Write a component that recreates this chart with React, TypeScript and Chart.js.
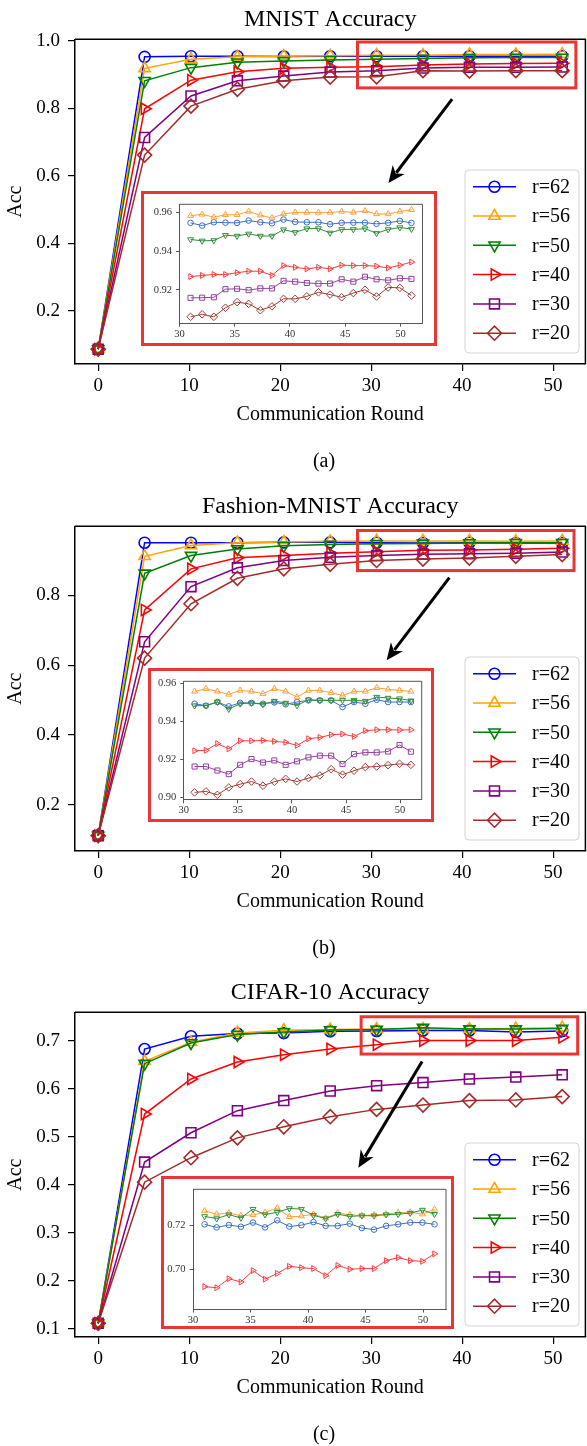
import React, { useEffect, useRef } from 'react';
import { Chart, registerables } from 'chart.js';
import { drawPoint } from 'chart.js/helpers';
Chart.register(...registerables);

const FONT = "'Liberation Serif', 'Times New Roman', serif";
const RED = '#ea3535';

const LABELS = ['r=62', 'r=56', 'r=50', 'r=40', 'r=30', 'r=20'];
const MAIN_COLORS = ['#0000ff', '#ffa500', '#008000', '#ff0000', '#800080', '#a52a2a'];
const INSET_COLORS = ['#3a6ec6', '#ffa038', '#2f8f3a', '#ff3c3c', '#94409f', '#a23b34'];
const POINT_STYLES = ['circle', 'triangle', 'triangle', 'triangle', 'rect', 'rectRot'];
const POINT_ROTATIONS = [0, 0, 180, 90, 0, 0];
const MAIN_RADII = [5.5, 6.5, 6.5, 6.5, 7, 7];
const INSET_RADII = [2.8, 3.4, 3.4, 3.4, 3.6, 3.8];

const ROUNDS = [0, 5.1, 10.2, 15.3, 20.4, 25.5, 30.6, 35.7, 40.8, 45.9, 51];
const INSET_ROUNDS = [31, 32.05, 33.11, 34.16, 35.21, 36.26, 37.32, 38.37, 39.42, 40.47, 41.53, 42.58, 43.63, 44.68, 45.74, 46.79, 47.84, 48.89, 49.95, 51];

// MNIST main
const MNIST_62 = [0.087, 0.953, 0.955, 0.955, 0.954, 0.955, 0.955, 0.955, 0.955, 0.955, 0.955];
const MNIST_56 = [0.087, 0.919, 0.946, 0.953, 0.955, 0.956, 0.958, 0.958, 0.96, 0.96, 0.961];
const MNIST_50 = [0.087, 0.882, 0.921, 0.937, 0.941, 0.944, 0.946, 0.948, 0.95, 0.951, 0.951];
const MNIST_40 = [0.087, 0.799, 0.884, 0.909, 0.919, 0.922, 0.924, 0.929, 0.932, 0.933, 0.934];
const MNIST_30 = [0.087, 0.714, 0.837, 0.882, 0.896, 0.908, 0.912, 0.92, 0.922, 0.922, 0.923];
const MNIST_20 = [0.087, 0.662, 0.807, 0.857, 0.882, 0.893, 0.894, 0.912, 0.911, 0.912, 0.912];
// MNIST inset
const MNIST_IN_62 = [0.9546, 0.9532, 0.9549, 0.9547, 0.9546, 0.9558, 0.9549, 0.9544, 0.9563, 0.9551, 0.9549, 0.9549, 0.9539, 0.9546, 0.9547, 0.9547, 0.9541, 0.9546, 0.9556, 0.9546];
const MNIST_IN_56 = [0.9583, 0.959, 0.9575, 0.9588, 0.9588, 0.9605, 0.9586, 0.9571, 0.9592, 0.96, 0.96, 0.96, 0.96, 0.9605, 0.96, 0.9608, 0.9592, 0.9592, 0.9605, 0.9614];
const MNIST_IN_50 = [0.946, 0.9453, 0.9455, 0.9482, 0.9478, 0.9489, 0.9478, 0.9478, 0.9511, 0.9497, 0.9516, 0.9517, 0.9494, 0.9512, 0.9512, 0.9516, 0.9492, 0.9512, 0.9522, 0.9514];
const MNIST_IN_40 = [0.9268, 0.9274, 0.9279, 0.9279, 0.9288, 0.9296, 0.9296, 0.9274, 0.9325, 0.9316, 0.9308, 0.9316, 0.9308, 0.9327, 0.9325, 0.9325, 0.9322, 0.9313, 0.9327, 0.9343];
const MNIST_IN_30 = [0.9158, 0.9159, 0.9161, 0.9203, 0.9205, 0.9198, 0.9207, 0.9207, 0.9246, 0.9242, 0.9235, 0.9232, 0.9232, 0.9254, 0.9242, 0.9267, 0.9254, 0.9249, 0.9259, 0.9256];
const MNIST_IN_20 = [0.906, 0.9073, 0.906, 0.9107, 0.9136, 0.9127, 0.9094, 0.9114, 0.9153, 0.9153, 0.9166, 0.9187, 0.9175, 0.9161, 0.9183, 0.92, 0.9165, 0.9212, 0.921, 0.917];

// Fashion-MNIST main
const FASHION_62 = [0.111, 0.951, 0.951, 0.951, 0.952, 0.952, 0.951, 0.95, 0.951, 0.95, 0.95];
const FASHION_56 = [0.111, 0.912, 0.943, 0.951, 0.953, 0.955, 0.956, 0.956, 0.956, 0.955, 0.956];
const FASHION_50 = [0.111, 0.863, 0.914, 0.933, 0.942, 0.946, 0.948, 0.949, 0.95, 0.951, 0.951];
const FASHION_40 = [0.111, 0.758, 0.876, 0.908, 0.914, 0.921, 0.925, 0.929, 0.93, 0.932, 0.935];
const FASHION_30 = [0.111, 0.667, 0.825, 0.879, 0.9, 0.909, 0.914, 0.918, 0.919, 0.921, 0.924];
const FASHION_20 = [0.111, 0.62, 0.776, 0.849, 0.876, 0.889, 0.9, 0.904, 0.907, 0.912, 0.917];
// Fashion-MNIST inset
const FASHION_IN_62 = [0.9491, 0.9481, 0.95, 0.9477, 0.9496, 0.9495, 0.9491, 0.9498, 0.9488, 0.95, 0.9509, 0.9509, 0.9509, 0.9474, 0.95, 0.9491, 0.9512, 0.95, 0.95, 0.95];
const FASHION_IN_56 = [0.9556, 0.957, 0.9556, 0.954, 0.9561, 0.9556, 0.9544, 0.957, 0.9556, 0.9526, 0.9561, 0.9561, 0.9549, 0.9535, 0.9556, 0.9556, 0.9575, 0.9567, 0.9561, 0.9556];
const FASHION_IN_50 = [0.9481, 0.9481, 0.95, 0.9463, 0.9491, 0.9495, 0.9488, 0.9505, 0.9495, 0.9482, 0.9512, 0.9509, 0.9509, 0.9509, 0.9509, 0.9505, 0.9526, 0.9521, 0.9518, 0.9507];
const FASHION_IN_40 = [0.9244, 0.9246, 0.9281, 0.9254, 0.9296, 0.9296, 0.9298, 0.9293, 0.9288, 0.9272, 0.9307, 0.9314, 0.9328, 0.9332, 0.9319, 0.9349, 0.9354, 0.9354, 0.9353, 0.9354];
const FASHION_IN_30 = [0.9161, 0.9161, 0.914, 0.9121, 0.917, 0.92, 0.9182, 0.9193, 0.917, 0.9188, 0.9209, 0.9218, 0.9218, 0.9174, 0.9226, 0.9235, 0.9235, 0.924, 0.9274, 0.9239];
const FASHION_IN_20 = [0.9025, 0.903, 0.9012, 0.9051, 0.9068, 0.9082, 0.906, 0.9081, 0.9096, 0.9082, 0.91, 0.9114, 0.9147, 0.9118, 0.9139, 0.9158, 0.9161, 0.9168, 0.9175, 0.917];

// CIFAR-10 main
const CIFAR_62 = [0.111, 0.6825, 0.709, 0.7147, 0.716, 0.7196, 0.72, 0.721, 0.721, 0.718, 0.72];
const CIFAR_56 = [0.111, 0.657, 0.6965, 0.716, 0.7217, 0.723, 0.724, 0.724, 0.724, 0.725, 0.727];
const CIFAR_50 = [0.111, 0.652, 0.695, 0.7126, 0.718, 0.722, 0.723, 0.727, 0.724, 0.724, 0.725];
const CIFAR_40 = [0.111, 0.547, 0.62, 0.6553, 0.6707, 0.6825, 0.6916, 0.7, 0.7, 0.7, 0.707];
const CIFAR_30 = [0.111, 0.447, 0.508, 0.554, 0.575, 0.595, 0.606, 0.6126, 0.62, 0.624, 0.6287];
const CIFAR_20 = [0.111, 0.405, 0.456, 0.4973, 0.5204, 0.5414, 0.5567, 0.5658, 0.575, 0.5763, 0.5833];
// CIFAR-10 inset
const CIFAR_IN_62 = [0.7204, 0.719, 0.7201, 0.7193, 0.7212, 0.719, 0.7222, 0.7194, 0.72, 0.7214, 0.7197, 0.7197, 0.7207, 0.7187, 0.718, 0.7197, 0.7204, 0.7212, 0.7212, 0.7204];
const CIFAR_IN_56 = [0.7265, 0.725, 0.7255, 0.7243, 0.7247, 0.7258, 0.7278, 0.7238, 0.7241, 0.725, 0.7232, 0.7255, 0.7247, 0.7244, 0.7247, 0.725, 0.7257, 0.7259, 0.725, 0.7272];
const CIFAR_IN_50 = [0.724, 0.723, 0.7248, 0.7233, 0.7273, 0.7248, 0.7259, 0.7276, 0.7273, 0.7245, 0.723, 0.725, 0.724, 0.7243, 0.7243, 0.7248, 0.725, 0.7255, 0.7269, 0.725];
const CIFAR_IN_40 = [0.6921, 0.6916, 0.6957, 0.6942, 0.6994, 0.6955, 0.6981, 0.7013, 0.7007, 0.7003, 0.6971, 0.7017, 0.7, 0.7003, 0.7003, 0.7039, 0.7053, 0.7039, 0.7036, 0.707];

type Rect = { left: number; top: number; right: number; bottom: number };
type PanelCfg = {
  top: number;
  title: string;
  caption: string;
  yMin: number; yMax: number; yStep: number;
  main: number[][];
  inset: number[][];
  inYMin: number; inYMax: number; inYStep: number;
  zoomBox: [number, number, number, number];
  arrow: [number, number, number, number];
  insetBox: Rect;
  insetAxes: Rect;
};

const PANELS: PanelCfg[] = [
  {
    top: 0, title: 'MNIST Accuracy', caption: '(a)',
    yMin: 0.043, yMax: 1.005, yStep: 0.2,
    main: [MNIST_62, MNIST_56, MNIST_50, MNIST_40, MNIST_30, MNIST_20],
    inset: [MNIST_IN_62, MNIST_IN_56, MNIST_IN_50, MNIST_IN_40, MNIST_IN_30, MNIST_IN_20],
    inYMin: 0.9027, inYMax: 0.9642, inYStep: 0.02,
    zoomBox: [28.5, 52.5, 0.861, 0.997],
    arrow: [38.9, 0.828, 31.9, 0.579],
    insetBox: { left: 142, top: 192, right: 435, bottom: 344 },
    insetAxes: { left: 179, top: 201.7, right: 422, bottom: 322.7 },
  },
  {
    top: 486.7, title: 'Fashion-MNIST Accuracy', caption: '(b)',
    yMin: 0.067, yMax: 0.998, yStep: 0.2,
    main: [FASHION_62, FASHION_56, FASHION_50, FASHION_40, FASHION_30, FASHION_20],
    inset: [FASHION_IN_62, FASHION_IN_56, FASHION_IN_50, FASHION_IN_40, FASHION_IN_30, FASHION_IN_20],
    inYMin: 0.8986, inYMax: 0.9609, inYStep: 0.02,
    zoomBox: [28.5, 52.3, 0.871, 0.986],
    arrow: [38.6, 0.851, 31.7, 0.614],
    insetBox: { left: 149, top: 182.6, right: 432.5, bottom: 334 },
    insetAxes: { left: 183.3, top: 194.3, right: 421.7, bottom: 313.3 },
  },
  {
    top: 973.4, title: 'CIFAR-10 Accuracy', caption: '(c)',
    yMin: 0.0824, yMax: 0.759, yStep: 0.1,
    main: [CIFAR_62, CIFAR_56, CIFAR_50, CIFAR_40, CIFAR_30, CIFAR_20],
    inset: [CIFAR_IN_62, CIFAR_IN_56, CIFAR_IN_50, CIFAR_IN_40],
    inYMin: 0.6819, inYMax: 0.7363, inYStep: 0.02,
    zoomBox: [28.9, 52.7, 0.672, 0.7497],
    arrow: [35.6, 0.6566, 28.6, 0.435],
    insetBox: { left: 162.7, top: 204.3, right: 452.7, bottom: 354.3 },
    insetAxes: { left: 193.3, top: 209.9, right: 447.7, bottom: 335.9 },
  },
];

const CANVAS_W = 594;
const CANVAS_H = 482;
const AREA = { left: 75, top: 39.3, right: 590, bottom: 364 };
const X_AXIS_H = 30;
const LEGEND = { left: 465, top: 170, right: 579, bottom: 353, firstY: 186.7, stepY: 29.3 };

function drawArrow(ctx: CanvasRenderingContext2D, x0: number, y0: number, x1: number, y1: number) {
  const ang = Math.atan2(y1 - y0, x1 - x0);
  const headLen = 17;
  const headW = 7.5;
  const bx = x1 - headLen * Math.cos(ang);
  const by = y1 - headLen * Math.sin(ang);
  ctx.strokeStyle = '#000';
  ctx.fillStyle = '#000';
  ctx.lineWidth = 3;
  ctx.beginPath();
  ctx.moveTo(x0, y0);
  ctx.lineTo(bx + 4 * Math.cos(ang), by + 4 * Math.sin(ang));
  ctx.stroke();
  ctx.beginPath();
  ctx.moveTo(x1, y1);
  ctx.lineTo(bx + headW * Math.sin(ang), by - headW * Math.cos(ang));
  ctx.lineTo(bx + 5 * Math.cos(ang), by + 5 * Math.sin(ang));
  ctx.lineTo(bx - headW * Math.sin(ang), by + headW * Math.cos(ang));
  ctx.closePath();
  ctx.fill();
}

function mainDecor(cfg: PanelCfg) {
  return {
    id: 'mainDecor',
    afterDatasetsDraw(chart: any) {
      const { ctx, chartArea: a, scales } = chart;
      const x = scales.x;
      const y = scales.y;
      ctx.save();
      // top and right spines
      ctx.strokeStyle = '#000';
      ctx.lineWidth = 1.5;
      ctx.beginPath();
      ctx.moveTo(a.left, a.top);
      ctx.lineTo(a.right, a.top);
      ctx.lineTo(a.right, a.bottom);
      ctx.stroke();
      // zoom rectangle
      const [zx0, zx1, zy0, zy1] = cfg.zoomBox;
      const px0 = x.getPixelForValue(zx0);
      const px1 = x.getPixelForValue(zx1);
      const py0 = y.getPixelForValue(zy1);
      const py1 = y.getPixelForValue(zy0);
      ctx.strokeStyle = RED;
      ctx.lineWidth = 3;
      ctx.strokeRect(px0, py0, px1 - px0, py1 - py0);
      // arrow
      const [ax0, ay0, ax1, ay1] = cfg.arrow;
      drawArrow(ctx, x.getPixelForValue(ax0), y.getPixelForValue(ay0), x.getPixelForValue(ax1), y.getPixelForValue(ay1));
      // legend
      const L = LEGEND;
      ctx.beginPath();
      const r = 4;
      ctx.moveTo(L.left + r, L.top);
      ctx.arcTo(L.right, L.top, L.right, L.bottom, r);
      ctx.arcTo(L.right, L.bottom, L.left, L.bottom, r);
      ctx.arcTo(L.left, L.bottom, L.left, L.top, r);
      ctx.arcTo(L.left, L.top, L.right, L.top, r);
      ctx.closePath();
      ctx.fillStyle = 'rgba(255,255,255,0.85)';
      ctx.fill();
      ctx.strokeStyle = '#d3d3d3';
      ctx.lineWidth = 1;
      ctx.stroke();
      chart.data.datasets.forEach((ds: any, i: number) => {
        const ly = L.firstY + i * L.stepY;
        ctx.strokeStyle = ds.borderColor;
        ctx.lineWidth = 1.5;
        ctx.beginPath();
        ctx.moveTo(L.left + 8, ly);
        ctx.lineTo(L.left + 51, ly);
        ctx.stroke();
        ctx.lineWidth = 1.6;
        ctx.fillStyle = 'rgba(0,0,0,0)';
        drawPoint(ctx, {
          pointStyle: ds.pointStyle,
          rotation: ds.pointRotation,
          radius: ds.pointRadius,
          borderWidth: 1.6,
        } as any, L.left + 29.5, ly);
        ctx.fillStyle = '#000';
        ctx.font = `20px ${FONT}`;
        ctx.textAlign = 'left';
        ctx.textBaseline = 'middle';
        ctx.fillText(ds.label, L.left + 67, ly + 1);
      });
      ctx.restore();
    },
    afterDraw(chart: any) {
      const { ctx, chartArea: a } = chart;
      ctx.save();
      ctx.fillStyle = '#000';
      ctx.textAlign = 'center';
      ctx.textBaseline = 'middle';
      ctx.font = `24px ${FONT}`;
      ctx.fillText(cfg.title, (a.left + a.right) / 2, a.top - 20);
      ctx.font = `20px ${FONT}`;
      ctx.fillText('Communication Round', (a.left + a.right) / 2, a.bottom + 51);
      ctx.fillText(cfg.caption, 324, a.bottom + 98);
      ctx.translate(16, (a.top + a.bottom) / 2);
      ctx.rotate(-Math.PI / 2);
      ctx.fillText('Acc', 0, 0);
      ctx.restore();
    },
  };
}

const insetDecor = {
  id: 'insetDecor',
  afterDatasetsDraw(chart: any) {
    const { ctx, chartArea: a } = chart;
    ctx.save();
    ctx.strokeStyle = '#555';
    ctx.lineWidth = 1;
    ctx.beginPath();
    ctx.moveTo(a.left, a.top);
    ctx.lineTo(a.right, a.top);
    ctx.lineTo(a.right, a.bottom);
    ctx.stroke();
    ctx.restore();
  },
};

function MainChart({ cfg }: { cfg: PanelCfg }) {
  const ref = useRef<HTMLCanvasElement>(null);
  useEffect(() => {
    if (!ref.current) return;
    const datasets = cfg.main.map((vals, i) => ({
      label: LABELS[i],
      data: vals.map((v, j) => ({ x: ROUNDS[j], y: v })),
      borderColor: MAIN_COLORS[i],
      backgroundColor: MAIN_COLORS[i],
      pointBackgroundColor: 'rgba(0,0,0,0)',
      pointBorderColor: MAIN_COLORS[i],
      pointStyle: POINT_STYLES[i],
      pointRotation: POINT_ROTATIONS[i],
      pointRadius: MAIN_RADII[i],
      pointBorderWidth: 1.6,
      borderWidth: 1.5,
      tension: 0,
      order: 6 - i,
    }));
    const chart = new Chart(ref.current, {
      type: 'line',
      data: { datasets } as any,
      options: {
        animation: false,
        responsive: false,
        events: [],
        layout: {
          padding: {
            left: 0,
            top: AREA.top,
            right: CANVAS_W - AREA.right,
            bottom: CANVAS_H - AREA.bottom - X_AXIS_H,
          },
        },
        plugins: { legend: { display: false }, tooltip: { enabled: false }, title: { display: false } },
        scales: {
          x: {
            type: 'linear',
            min: -2.55,
            max: 53.55,
            afterFit: (s: any) => { s.height = X_AXIS_H; },
            ticks: {
              stepSize: 10,
              includeBounds: false,
              maxRotation: 0,
              color: '#000',
              padding: 4,
              font: { family: FONT, size: 19 },
              callback: (v: any) => String(v),
            },
            grid: { drawOnChartArea: false, drawTicks: true, tickLength: 7, color: '#000', lineWidth: 1.2 },
            border: { display: true, color: '#000', width: 1.5 },
          },
          y: {
            type: 'linear',
            min: cfg.yMin,
            max: cfg.yMax,
            afterFit: (s: any) => { s.width = AREA.left; },
            ticks: {
              stepSize: cfg.yStep,
              includeBounds: false,
              color: '#000',
              padding: 8,
              font: { family: FONT, size: 19 },
              callback: (v: any) => Number(v).toFixed(1),
            },
            grid: { drawOnChartArea: false, drawTicks: true, tickLength: 7, color: '#000', lineWidth: 1.2 },
            border: { display: true, color: '#000', width: 1.5 },
          },
        },
      } as any,
      plugins: [mainDecor(cfg)],
    });
    return () => chart.destroy();
  }, [cfg]);
  return (
    <canvas
      ref={ref}
      width={CANVAS_W}
      height={CANVAS_H}
      style={{ position: 'absolute', left: 0, top: 0, width: CANVAS_W, height: CANVAS_H }}
    />
  );
}

function InsetChart({ cfg }: { cfg: PanelCfg }) {
  const ref = useRef<HTMLCanvasElement>(null);
  const bx = cfg.insetBox;
  const ax = cfg.insetAxes;
  const cw = bx.right - bx.left - 3;
  const ch = bx.bottom - bx.top - 3;
  const ox = bx.left + 1.5;
  const oy = bx.top + 1.5;
  useEffect(() => {
    if (!ref.current) return;
    const leftW = ax.left - ox;
    const topP = ax.top - oy;
    const rightP = cw - (ax.right - ox);
    const xH = ch - (ax.bottom - oy);
    const datasets = cfg.inset.map((vals, i) => ({
      label: LABELS[i],
      data: vals.map((v, j) => ({ x: INSET_ROUNDS[j], y: v })),
      borderColor: INSET_COLORS[i],
      backgroundColor: INSET_COLORS[i],
      pointBackgroundColor: 'rgba(0,0,0,0)',
      pointBorderColor: INSET_COLORS[i],
      pointStyle: POINT_STYLES[i],
      pointRotation: POINT_ROTATIONS[i],
      pointRadius: INSET_RADII[i],
      pointBorderWidth: 1,
      borderWidth: 1,
      tension: 0,
      order: 6 - i,
    }));
    const chart = new Chart(ref.current, {
      type: 'line',
      data: { datasets } as any,
      options: {
        animation: false,
        responsive: false,
        events: [],
        layout: { padding: { left: 0, top: topP, right: rightP, bottom: 0 } },
        plugins: { legend: { display: false }, tooltip: { enabled: false }, title: { display: false } },
        scales: {
          x: {
            type: 'linear',
            min: 30,
            max: 52,
            afterFit: (s: any) => { s.height = xH; },
            ticks: {
              stepSize: 5,
              includeBounds: false,
              maxRotation: 0,
              color: '#333',
              padding: 1,
              font: { family: FONT, size: 10.5 },
              callback: (v: any) => String(v),
            },
            grid: { drawOnChartArea: false, drawTicks: true, tickLength: 3.5, color: '#444', lineWidth: 0.9 },
            border: { display: true, color: '#555', width: 1 },
          },
          y: {
            type: 'linear',
            min: cfg.inYMin,
            max: cfg.inYMax,
            afterFit: (s: any) => { s.width = leftW; },
            ticks: {
              stepSize: cfg.inYStep,
              includeBounds: false,
              color: '#333',
              padding: 4,
              font: { family: FONT, size: 10.5 },
              callback: (v: any) => Number(v).toFixed(2),
            },
            grid: { drawOnChartArea: false, drawTicks: true, tickLength: 3.5, color: '#444', lineWidth: 0.9 },
            border: { display: true, color: '#555', width: 1 },
          },
        },
      } as any,
      plugins: [insetDecor],
    });
    return () => chart.destroy();
  }, [cfg]);
  return (
    <div
      style={{
        position: 'absolute',
        left: bx.left - 1.5,
        top: bx.top - 1.5,
        width: bx.right - bx.left + 3,
        height: bx.bottom - bx.top + 3,
        border: `3px solid ${RED}`,
        boxSizing: 'border-box',
        background: '#fff',
        overflow: 'hidden',
      }}
    >
      <canvas
        ref={ref}
        width={cw}
        height={ch}
        style={{ position: 'absolute', left: 0, top: 0, width: cw, height: ch }}
      />
    </div>
  );
}

function Panel({ cfg }: { cfg: PanelCfg }) {
  return (
    <div style={{ position: 'absolute', left: 0, top: cfg.top, width: 587, height: CANVAS_H, overflow: 'hidden' }}>
      <MainChart cfg={cfg} />
      <InsetChart cfg={cfg} />
    </div>
  );
}

export default function App() {
  useEffect(() => {
    document.body.style.margin = '0';
    document.body.style.background = '#fff';
  }, []);
  return (
    <div style={{ position: 'relative', width: 587, height: 1446, overflow: 'hidden', background: '#fff' }}>
      {PANELS.map((p) => (
        <Panel key={p.caption} cfg={p} />
      ))}
    </div>
  );
}
